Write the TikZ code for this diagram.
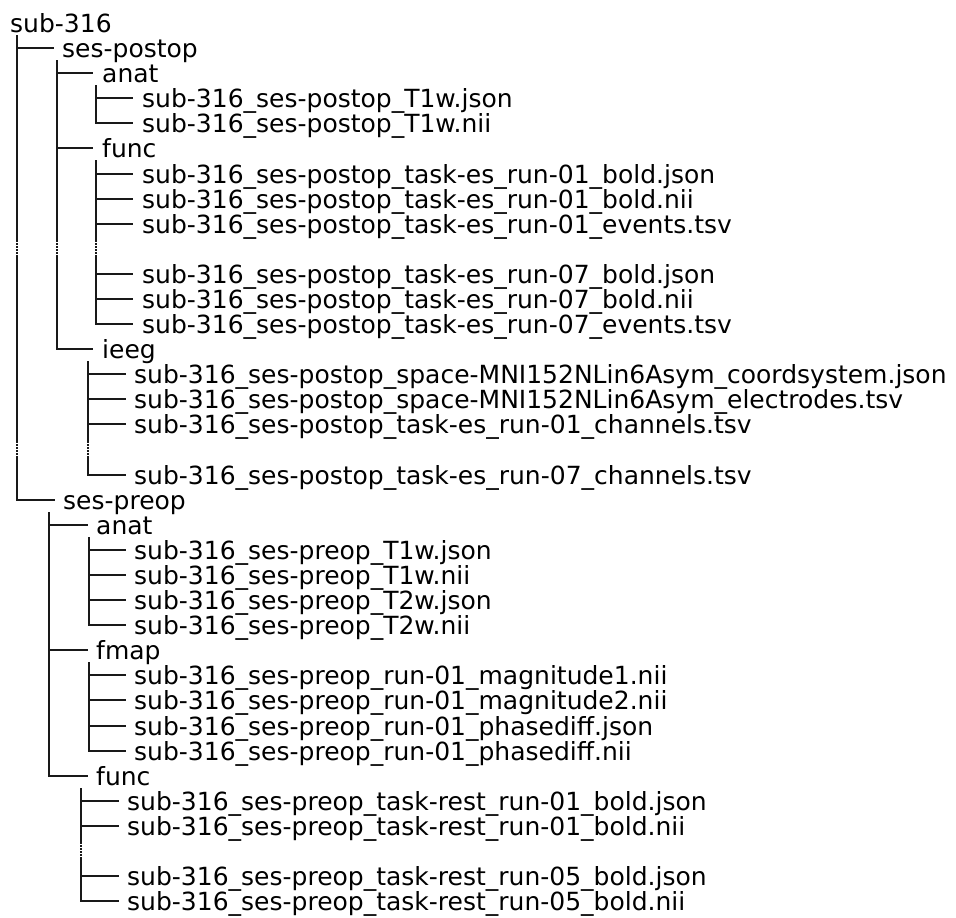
\documentclass[tikz,border=0pt]{standalone}
\usepackage{fontspec}
\setmainfont{DejaVu Sans}
\begin{document}
\begin{tikzpicture}[x=1pt,y=-1pt,
  lbl/.style={anchor=base west, inner sep=0pt, text height=19pt, text depth=1pt, font=\fontsize{25}{25}\selectfont, text=black},
  tree/.style={draw=black!90, line width=2pt},
  gapdots/.style={draw=white, line width=3pt, dash pattern=on 1pt off 2pt}]
\useasboundingbox (0,0) rectangle (956,918);
\def\rowsp{25.09}
\def\bl#1{{round(32+\rowsp*#1)}}
\def\ln#1{round(32+\rowsp*#1)-9}
% level nodes
\node[lbl] (r0)  at (10,\bl{0})  {sub-316};
\node[lbl] (r1)  at (62,\bl{1})  {ses-postop};
\node[lbl] (r2)  at (102,\bl{2}) {anat};
\node[lbl] (r3)  at (142,\bl{3}) {sub-316\_ses-postop\_T1w.json};
\node[lbl] (r4)  at (142,\bl{4}) {sub-316\_ses-postop\_T1w.nii};
\node[lbl] (r5)  at (102,\bl{5}) {func};
\node[lbl] (r6)  at (142,\bl{6}) {sub-316\_ses-postop\_task-es\_run-01\_bold.json};
\node[lbl] (r7)  at (142,\bl{7}) {sub-316\_ses-postop\_task-es\_run-01\_bold.nii};
\node[lbl] (r8)  at (142,\bl{8}) {sub-316\_ses-postop\_task-es\_run-01\_events.tsv};
\node[lbl] (r10) at (142,\bl{10}) {sub-316\_ses-postop\_task-es\_run-07\_bold.json};
\node[lbl] (r11) at (142,\bl{11}) {sub-316\_ses-postop\_task-es\_run-07\_bold.nii};
\node[lbl] (r12) at (142,\bl{12}) {sub-316\_ses-postop\_task-es\_run-07\_events.tsv};
\node[lbl] (r13) at (102,\bl{13}) {ieeg};
\node[lbl] (r14) at (134,\bl{14}) {sub-316\_ses-postop\_space-MNI152NLin6Asym\_coordsystem.json};
\node[lbl] (r15) at (134,\bl{15}) {sub-316\_ses-postop\_space-MNI152NLin6Asym\_electrodes.tsv};
\node[lbl] (r16) at (134,\bl{16}) {sub-316\_ses-postop\_task-es\_run-01\_channels.tsv};
\node[lbl] (r18) at (134,\bl{18}) {sub-316\_ses-postop\_task-es\_run-07\_channels.tsv};
\node[lbl] (r19) at (63,\bl{19})  {ses-preop};
\node[lbl] (r20) at (96,\bl{20})  {anat};
\node[lbl] (r21) at (134,\bl{21}) {sub-316\_ses-preop\_T1w.json};
\node[lbl] (r22) at (134,\bl{22}) {sub-316\_ses-preop\_T1w.nii};
\node[lbl] (r23) at (134,\bl{23}) {sub-316\_ses-preop\_T2w.json};
\node[lbl] (r24) at (134,\bl{24}) {sub-316\_ses-preop\_T2w.nii};
\node[lbl] (r25) at (96,\bl{25})  {fmap};
\node[lbl] (r26) at (134,\bl{26}) {sub-316\_ses-preop\_run-01\_magnitude1.nii};
\node[lbl] (r27) at (134,\bl{27}) {sub-316\_ses-preop\_run-01\_magnitude2.nii};
\node[lbl] (r28) at (134,\bl{28}) {sub-316\_ses-preop\_run-01\_phasediff.json};
\node[lbl] (r29) at (134,\bl{29}) {sub-316\_ses-preop\_run-01\_phasediff.nii};
\node[lbl] (r30) at (96,\bl{30})  {func};
\node[lbl] (r31) at (127,\bl{31}) {sub-316\_ses-preop\_task-rest\_run-01\_bold.json};
\node[lbl] (r32) at (127,\bl{32}) {sub-316\_ses-preop\_task-rest\_run-01\_bold.nii};
\node[lbl] (r34) at (127,\bl{34}) {sub-316\_ses-preop\_task-rest\_run-05\_bold.json};
\node[lbl] (r35) at (127,\bl{35}) {sub-316\_ses-preop\_task-rest\_run-05\_bold.nii};
% vertical tops (x of column, y just below parent row)
\coordinate (vRoot)  at (17, {\ln{0}+12});
\coordinate (vPost)  at (57, {\ln{1}+12});
\coordinate (vPA)    at (96, {\ln{2}+12});
\coordinate (vPF)    at (96, {\ln{5}+12});
\coordinate (vPI)    at (88, {\ln{13}+12});
\coordinate (vPre)   at (49, {\ln{19}+12});
\coordinate (vRA)    at (89, {\ln{20}+12});
\coordinate (vRM)    at (89, {\ln{25}+12});
\coordinate (vRF)    at (81, {\ln{30}+12});
% connectors
\foreach \c in {r1,r19} \draw[tree] (vRoot) |- ([xshift=-8pt]\c.west);
\foreach \c in {r2,r5,r13} \draw[tree] (vPost) |- ([xshift=-9pt]\c.west);
\foreach \c in {r3,r4} \draw[tree] (vPA) |- ([xshift=-9pt]\c.west);
\foreach \c in {r6,r7,r8,r10,r11,r12} \draw[tree] (vPF) |- ([xshift=-9pt]\c.west);
\foreach \c in {r14,r15,r16,r18} \draw[tree] (vPI) |- ([xshift=-8pt]\c.west);
\foreach \c in {r20,r25,r30} \draw[tree] (vPre) |- ([xshift=-8pt]\c.west);
\foreach \c in {r21,r22,r23,r24} \draw[tree] (vRA) |- ([xshift=-8pt]\c.west);
\foreach \c in {r26,r27,r28,r29} \draw[tree] (vRM) |- ([xshift=-8pt]\c.west);
\foreach \c in {r31,r32,r34,r35} \draw[tree] (vRF) |- ([xshift=-8pt]\c.west);
% dotted gaps
\foreach \x/\g in {17/9, 57/9, 96/9, 17/17, 88/17, 81/33}
  \draw[gapdots] (\x,{\ln{\g}-7}) -- (\x,{\ln{\g}+7});
\end{tikzpicture}
\end{document}
